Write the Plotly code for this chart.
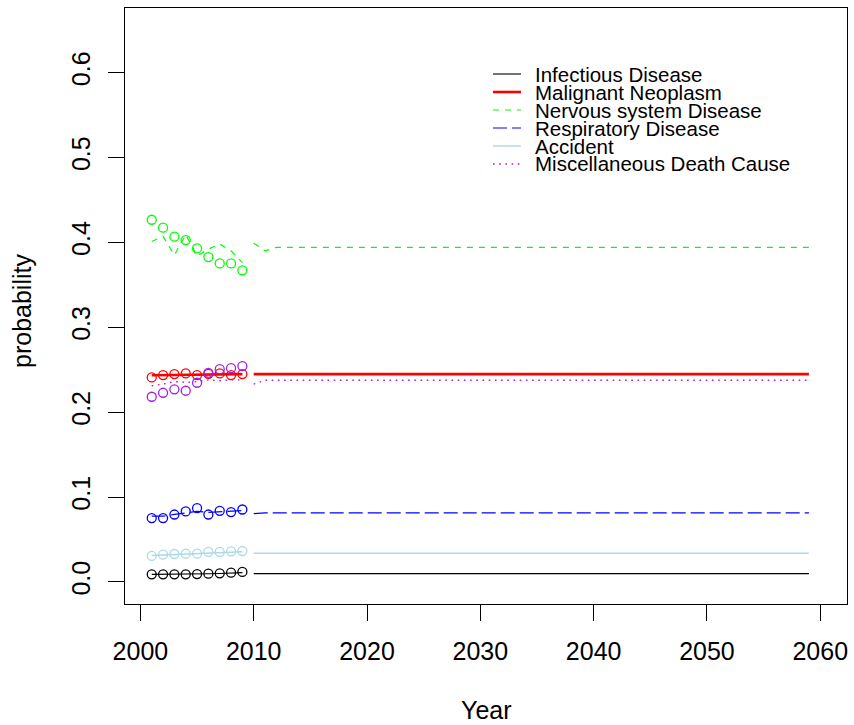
import plotly.graph_objects as go

# ---- data -------------------------------------------------------------
causes = [
    "Infectious Disease",
    "Malignant Neoplasm",
    "Nervous system Disease",
    "Respiratory Disease",
    "Accident",
    "Miscellaneous Death Cause",
]

obs_years = [2001, 2002, 2003, 2004, 2005, 2006, 2007, 2008, 2009]

# observed yearly proportions (circles)
obs_infectious = [0.0089, 0.0089, 0.0089, 0.0089, 0.0093, 0.0097, 0.0101, 0.0109, 0.0118]
obs_neoplasm = [0.2409, 0.2436, 0.2448, 0.2456, 0.2436, 0.2451, 0.2456, 0.2436, 0.2448]
obs_nervous = [0.4266, 0.4172, 0.4066, 0.4026, 0.3928, 0.3826, 0.3752, 0.3752, 0.3670]
obs_respiratory = [0.0752, 0.0752, 0.0794, 0.0830, 0.0870, 0.0794, 0.0838, 0.0823, 0.0853]
obs_accident = [0.0306, 0.0321, 0.0329, 0.0333, 0.0333, 0.0353, 0.0353, 0.0360, 0.0364]
obs_misc = [0.2181, 0.2228, 0.2268, 0.2252, 0.2346, 0.2463, 0.2506, 0.2518, 0.2542]

# in-sample fitted values (lines over the observed period)
fit_infectious = [0.0089, 0.0089, 0.0090, 0.0091, 0.0093, 0.0096, 0.0099, 0.0104, 0.0110]
fit_neoplasm = [0.2435, 0.2437, 0.2440, 0.2442, 0.2443, 0.2445, 0.2446, 0.2447, 0.2448]
fit_nervous = [0.401, 0.407, 0.385, 0.409, 0.384, 0.392, 0.398, 0.390, 0.376]
fit_respiratory = [0.0775, 0.0775, 0.0795, 0.0815, 0.0830, 0.0820, 0.0825, 0.0830, 0.0840]
fit_accident = [0.0312, 0.0318, 0.0324, 0.0329, 0.0334, 0.0340, 0.0346, 0.0351, 0.0356]
fit_misc = [0.231, 0.233, 0.236, 0.235, 0.236, 0.238, 0.237, 0.238, 0.238]

# projections 2010-2059 (values at the years where the path changes)
proj_years = [2010, 2011, 2012, 2059]
proj_infectious = [0.0098, 0.0098, 0.0098, 0.0098]
proj_neoplasm = [0.2448, 0.2448, 0.2448, 0.2448]
proj_nervous = [0.399, 0.390, 0.394, 0.394]
proj_respiratory = [0.0805, 0.0814, 0.0814, 0.0814]
proj_accident = [0.0338, 0.0338, 0.0338, 0.0338]
proj_misc = [0.233, 0.2375, 0.2375, 0.2375]

x_ticks = [2000, 2010, 2020, 2030, 2040, 2050, 2060]
y_ticks = [0.0, 0.1, 0.2, 0.3, 0.4, 0.5, 0.6]
y_tick_text = ["0.0", "0.1", "0.2", "0.3", "0.4", "0.5", "0.6"]
x_lim = (2001, 2060)
y_lim = (0.0, 0.65)

# ---- styles -------------------------------------------------------------
colors = ["#000000", "#FF0000", "#00FF00", "#0000FF", "#ADD8E6", "#A020F0"]
widths = [1.1, 2.6, 1.2, 1.2, 1.4, 1.4]
dashes = ["solid", "solid", "6px,6px", "14px,5px", "solid", "1.6px,4.6px"]

observed = [obs_infectious, obs_neoplasm, obs_nervous, obs_respiratory, obs_accident, obs_misc]
fitted = [fit_infectious, fit_neoplasm, fit_nervous, fit_respiratory, fit_accident, fit_misc]
projected = [proj_infectious, proj_neoplasm, proj_nervous, proj_respiratory, proj_accident, proj_misc]

FONT = "Liberation Sans, Arial, Helvetica, sans-serif"
AXIS_SIZE = 25
LEGEND_SIZE = 20.5

fig = go.Figure()
for name, col, w, d, ob, ft, pr in zip(causes, colors, widths, dashes, observed, fitted, projected):
    fig.add_trace(go.Scatter(x=obs_years, y=ft, mode="lines", name=name,
                             line=dict(color=col, width=w, dash=d), showlegend=False))
    fig.add_trace(go.Scatter(x=proj_years, y=pr, mode="lines", name=name,
                             line=dict(color=col, width=w, dash=d), showlegend=False))
    fig.add_trace(go.Scatter(x=obs_years, y=ob, mode="markers", name=name,
                             marker=dict(symbol="circle-open", size=9, color=col,
                                         line=dict(color=col, width=1.3)),
                             showlegend=False))


def padded(lo, hi):
    p = 0.04 * (hi - lo)
    return [lo - p, hi + p]


fig.update_xaxes(range=padded(*x_lim), tickvals=x_ticks, ticks="outside", ticklen=16,
                 tickwidth=1, tickcolor="black", showline=True, linecolor="black",
                 linewidth=1, mirror=True, showgrid=False, zeroline=False,
                 tickfont=dict(family=FONT, size=AXIS_SIZE, color="black"),
                 ticklabelstandoff=9)
fig.update_yaxes(range=padded(*y_lim), tickvals=y_ticks, ticktext=y_tick_text,
                 ticks="outside", ticklen=16, tickwidth=1, tickcolor="black",
                 showline=True, linecolor="black", linewidth=1, mirror=True,
                 showgrid=False, zeroline=False, tickangle=-90,
                 tickfont=dict(family=FONT, size=AXIS_SIZE, color="black"),
                 ticklabelstandoff=8)

L, R, T, B = 125, 7, 8, 121
W, H = 854, 725
pw, ph = W - L - R, H - T - B


def px_x(px):
    return (px - L) / pw


def px_y(py):
    return (H - B - py) / ph


annotations = [
    dict(text="Year", x=0.5, y=px_y(710), xref="paper", yref="paper", showarrow=False,
         xanchor="center", yanchor="middle",
         font=dict(family=FONT, size=AXIS_SIZE, color="black")),
    dict(text="probability", x=px_x(22), y=px_y(311), xref="paper", yref="paper",
         showarrow=False, textangle=-90, xanchor="center", yanchor="middle",
         font=dict(family=FONT, size=AXIS_SIZE, color="black")),
]

# legend box contents (R-style, no frame)
shapes = []
leg_rows = [74, 92, 110, 128, 146, 164]
for name, col, w, d, row in zip(causes, colors, widths, dashes, leg_rows):
    shapes.append(dict(type="line", xref="paper", yref="paper",
                       x0=px_x(493), x1=px_x(521), y0=px_y(row), y1=px_y(row),
                       line=dict(color=col, width=w, dash=d)))
    annotations.append(dict(text=name, x=px_x(533), y=px_y(row), xref="paper", yref="paper",
                            showarrow=False, xanchor="left", yanchor="middle",
                            font=dict(family=FONT, size=LEGEND_SIZE, color="black")))

fig.update_layout(width=W, height=H, margin=dict(l=L, r=R, t=T, b=B),
                  paper_bgcolor="white", plot_bgcolor="white",
                  showlegend=False, annotations=annotations, shapes=shapes)

fig.write_html("out.html")
